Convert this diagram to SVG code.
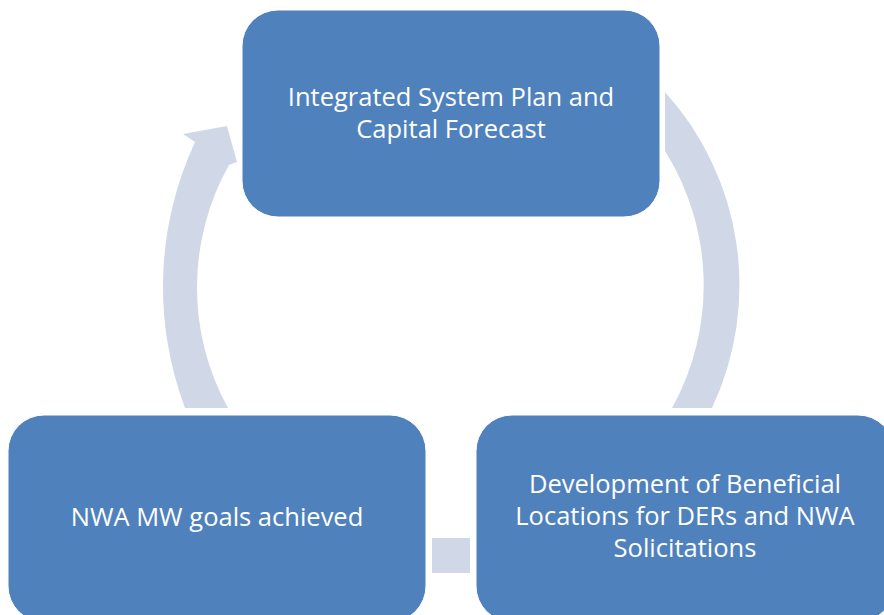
<svg xmlns="http://www.w3.org/2000/svg" width="884" height="615" viewBox="0 0 884 615">
<style>
.box{fill:#4F81BD;stroke:#ffffff;stroke-width:1}
.arr{fill:#D0D8E8;stroke:none}
.lbl{fill:#ffffff;font-family:"Open Sans","Liberation Sans",sans-serif;font-size:25.5px;text-anchor:middle}
</style>
<rect width="884" height="615" fill="#ffffff"/>
<g id="connectors">
<path class="arr" d="M185,408 A344,344 0 0 1 195,142 L183,134 L227,126 L237,162 L229,165 A250,250 0 0 0 228,408 Z"/>
<path class="arr" d="M665,92 A288,288 0 0 1 712,408 L672,408 A253,253 0 0 0 665,151 Z"/>
<rect class="arr" x="432" y="538" width="38" height="35"/>
</g>
<g id="node-plan">
<rect class="box" x="242" y="10" width="418" height="207" rx="36"/>
<text class="lbl" x="451" y="106">Integrated System Plan and</text>
<text class="lbl" x="451" y="138">Capital Forecast</text>
</g>
<g id="node-development">
<rect class="box" x="476" y="415" width="418" height="207" rx="36"/>
<text class="lbl" x="685" y="493">Development of Beneficial</text>
<text class="lbl" x="685" y="525">Locations for DERs and NWA</text>
<text class="lbl" x="685" y="557">Solicitations</text>
</g>
<g id="node-goals">
<rect class="box" x="8" y="415" width="418" height="207" rx="36"/>
<text class="lbl" x="217" y="526">NWA MW goals achieved</text>
</g>
</svg>
